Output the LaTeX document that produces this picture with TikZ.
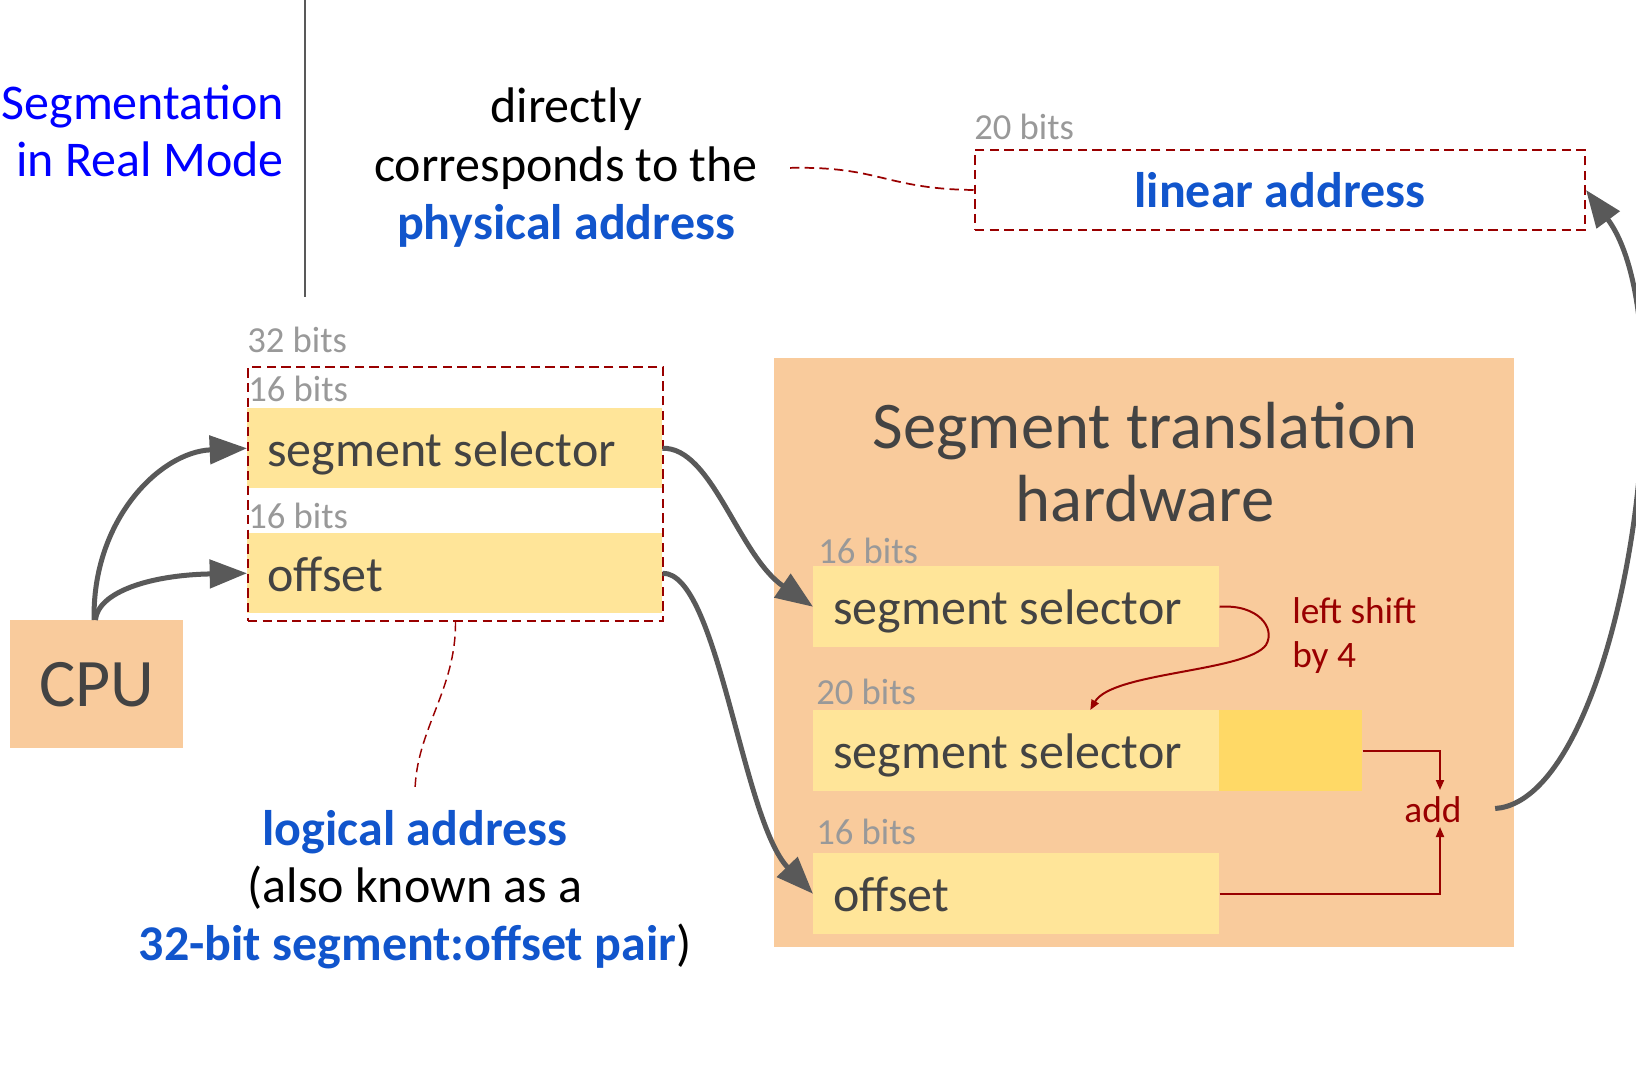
\documentclass[tikz,border=0pt]{standalone}
\usepackage{fontspec}
\setmainfont{Carlito}
\usetikzlibrary{arrows.meta}

\definecolor{fieldyellow}{HTML}{FFE599}
\definecolor{extyellow}{HTML}{FFD966}
\definecolor{hwfill}{HTML}{F9CB9C}
\definecolor{darktext}{HTML}{434343}
\definecolor{bitgray}{HTML}{999999}
\definecolor{arrowgray}{HTML}{595959}
\definecolor{darkred}{HTML}{990000}
\definecolor{linkblue}{HTML}{1155CC}
\definecolor{titleblue}{HTML}{0000FF}

\newlength\pxu
\setlength\pxu{0.75pt}

\tikzset{
  bitlabel/.style={text=bitgray, font=\fontsize{27.5}{32}\selectfont, anchor=base west, inner sep=0pt},
  field/.style={fill=fieldyellow, text=darktext, anchor=north west,
    font=\fontsize{37.5}{44}\selectfont, inner xsep=20\pxu, inner ysep=0pt,
    text width=375\pxu, align=flush left, minimum height=80\pxu,
    text height=27pt, text depth=0pt},
  hwfield/.style={field, text width=366\pxu, minimum height=81\pxu},
  bigarrow/.style={draw=arrowgray, line width=3.75pt,
    -{Triangle[length=28pt,width=21pt]}},
  redline/.style={draw=darkred, line width=1.5pt},
  redarrow/.style={redline, -{Triangle[length=7.5pt,width=6pt]}},
  reddash/.style={draw=darkred, line width=1.3pt, dash pattern=on 7pt off 4pt},
}

\begin{document}
\begin{tikzpicture}[x=0.75pt, y=-0.75pt]
\useasboundingbox (0,0) rectangle (1636,1080);

% title and separator (base anchor = baseline of the last line)
\node[text=titleblue, font=\fontsize{37.5}{43}\selectfont, align=right,
  anchor=base east, inner sep=0pt] (title) at (284,177) {Segmentation\\in Real Mode};
\draw[arrowgray, line width=1.2pt] (305,0) -- (305,297);

% note about the physical address
\node[font=\fontsize{37.5}{44}\selectfont, align=center, anchor=base, inner sep=0pt]
  (phys) at (566,240) {directly\\corresponds to the\\\textcolor{linkblue}{\textbf{physical address}}};

% linear address
\node[bitlabel] (linbits) at (974,140) {20 bits};
\node[draw=darkred, line width=1.5pt, dash pattern=on 7pt off 4pt, anchor=north west,
  minimum width=610\pxu, minimum height=80\pxu, inner sep=0pt,
  text=linkblue, font=\fontsize{37.5}{44}\bfseries\selectfont] (linear) at (974,149) {linear address};
\draw[reddash] ([xshift=24pt]phys.east) .. controls (880,166) and (885,189) .. (linear.west);

% CPU
\node[fill=hwfill, text=darktext, font=\fontsize{51}{60}\selectfont, anchor=north west,
  minimum width=173\pxu, minimum height=128\pxu, inner sep=0pt] (cpu) at (10,620) {CPU};

% logical address (32 bits)
\node[bitlabel] (bits32) at (247,353) {32 bits};
\node[bitlabel] (bits16a) at (248,402) {16 bits};
\node[bitlabel] (bits16b) at (248,528) {16 bits};
\node[field] (lsel) at (247,408) {segment selector};
\node[field] (loff) at (247,533) {offset};
\node[draw=darkred, line width=1.5pt, dash pattern=on 7pt off 4pt, anchor=north west,
  minimum width=415\pxu, minimum height=254\pxu, inner sep=0pt] (logical) at (247,366) {};

\node[font=\fontsize{37.5}{43}\selectfont, align=center, anchor=base, inner sep=0pt]
  (logtext) at (415,960) {\textcolor{linkblue}{\textbf{logical address}}\\(also known as a\\\textcolor{linkblue}{\textbf{32-bit segment:offset pair}})};
\draw[reddash, line width=1.1pt] (logical.south) .. controls (456,690) and (416,730) .. ([yshift=14pt]logtext.north);

% segment translation hardware
\node[fill=hwfill, anchor=north west, minimum width=740\pxu, minimum height=589\pxu,
  inner sep=0pt] (hw) at (774,358) {};
\node[text=darktext, font=\fontsize{50}{55}\selectfont, align=center, anchor=base, inner sep=0pt]
  (hwtitle) at (1145,522) {Segment translation\\hardware};

\node[bitlabel] (hbits1) at (818,563) {16 bits};
\node[bitlabel] (hbits2) at (816,704) {20 bits};
\node[bitlabel] (hbits3) at (816,844) {16 bits};
\node[hwfield] (hsel) at (813,566) {segment selector};
\node[hwfield] (hsel2) at (813,710) {segment selector};
\node[fill=extyellow, anchor=north west, minimum width=143\pxu, minimum height=81\pxu,
  inner sep=0pt] (hext) at (1219,710) {};
\node[hwfield] (hoff) at (813,853) {offset};

\node[text=darkred, font=\fontsize{28}{33}\selectfont, align=left, anchor=base west,
  inner sep=0pt] (shift) at (1292,667) {left shift\\by 4};
\node[text=darkred, font=\fontsize{28}{33}\selectfont, inner xsep=0pt, inner ysep=0pt,
  text height=27\pxu, text depth=0pt, minimum height=37\pxu] (add) at (1433,808.5) {add};
\coordinate (addtop) at (1440,790);
\coordinate (addbot) at (1440,827);

% connectors
\draw[bigarrow] ([xshift=-2pt]cpu.north) .. controls (92,520) and (160,452) .. (lsel.west);
\draw[bigarrow] ([xshift=-1pt]cpu.north) .. controls (98,592) and (150,575) .. (loff.west);
\draw[bigarrow] (lsel.east) .. controls (712,447) and (738,555) .. (hsel.west);
\draw[bigarrow] (loff.east) .. controls (718,572) and (742,820) .. (hoff.west);
\draw[redarrow] (hsel.east) .. controls (1258,604) and (1276,628) .. (1266,645)
  .. controls (1246,672) and (1112,672) .. ([xshift=55.5pt]hsel2.north);
\draw[redarrow] (hext.east) -| (addtop);
\draw[redarrow] (hoff.east) -| (addbot);
\draw[bigarrow] ([xshift=25pt]add.east) .. controls (1620,800) and (1690,330) .. (linear.east);

\end{tikzpicture}
\end{document}
